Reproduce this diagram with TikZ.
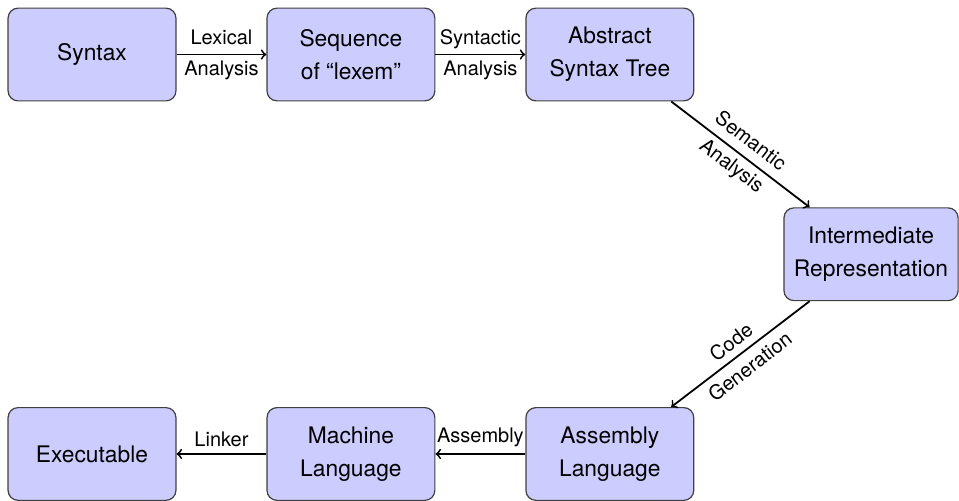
\documentclass[tikz,border=0pt]{standalone}
\usepackage{fontspec}
\setmainfont{TeX Gyre Heros}

\begin{document}
\begin{tikzpicture}[
		stage/.style={draw=black!75, fill=blue!20, rounded corners=5pt, line width=0.6pt,
			minimum width=2.95cm, minimum height=1.63cm, inner sep=5pt, align=center,
			font=\fontsize{11.4}{16.5}\selectfont},
		pass/.style={->, line width=0.9pt},
		lbl/.style={align=center, font=\fontsize{10}{15.5}\selectfont}]
	\useasboundingbox (-1.617,0.958) rectangle (15.236,-7.846);
	% front end
	\node [stage] (syn) at (0,0) {Syntax};
	\node [stage] (lex) at (4.55,0) {Sequence\\of “lexem”};
	\node [stage] (ast) at (9.1,0) {Abstract\\Syntax Tree};
	\node [stage] (ir) at (13.69,-3.51) {Intermediate\\Representation};
	% back end
	\node [stage] (asm) at (9.1,-7.02) {Assembly\\Language};
	\node [stage] (mach) at (4.55,-7.02) {Machine\\Language};
	\node [stage] (exe) at (0,-7.02) {Executable};

	\draw [pass] (syn) -- (lex) node [lbl, midway] {Lexical\\Analysis};
	\draw [pass] (lex) -- (ast) node [lbl, midway] {Syntactic\\Analysis};
	\draw [pass] (ast) -- (ir) node [lbl, midway, sloped] {Semantic\\Analysis};
	\draw [pass] (ir) -- (asm) node [lbl, midway, sloped] {Code\\Generation};
	\draw [pass] (asm) -- (mach) node [lbl, midway, above] {Assembly};
	\draw [pass] (mach) -- (exe) node [lbl, midway, above] {Linker};
\end{tikzpicture}
\end{document}
